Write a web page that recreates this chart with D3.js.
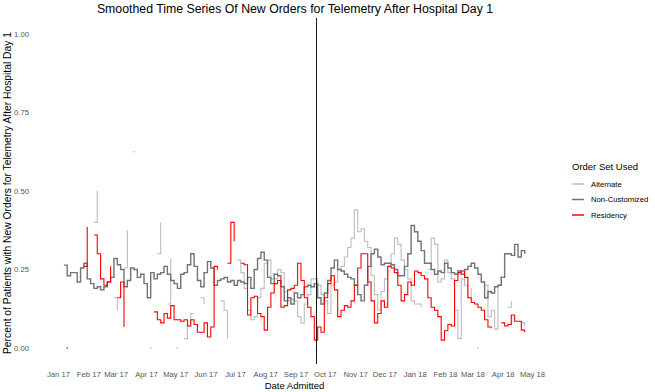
<!DOCTYPE html>
<html>
<head>
<meta charset="utf-8">
<script src="https://cdnjs.cloudflare.com/ajax/libs/d3/7.8.5/d3.min.js"></script>
<style>
  body { margin: 0; background: #ffffff; }
  svg { font-family: "Liberation Sans", Arial, sans-serif; }
</style>
</head>
<body>
<div id="chart"></div>
<script>
/* ********* data ********* */
// one reading every 82 hours starting 7 Jan 2017, null = no admissions that window
var startDate = new Date(2017, 0, 7);
var stepHours = 82;
var cutoverDate = new Date(2017, 8, 22);
var yTicks = [0, 0.25, 0.5, 0.75, 1];
var yTickLabels = ["0.00", "0.25", "0.50", "0.75", "1.00"];
var monthTicks = d3.timeMonth.range(new Date(2017, 0, 1), new Date(2018, 4, 2));
var seriesNames = ["Alternate", "Non-Customized", "Residency"];
var seriesColors = ["#bdbdbd", "#737373", "#ff0000"];
var seriesWidths = [1.1, 1.4, 1.1];

var alternate = [
  null, null, null, null, null, null, null, null, null, 0.4,
  0.5, null, null, null, null, 0.16, 0.12, null, 0.255, 0.375,
  null, 0.625, null, null, null, null, 0, null, 0.3, 0.4,
  null, 0.14, 0.285, null, 0, null, 0.03, 0.07, 0.11, 0.11,
  null, 0.16, 0.14, null, null, null, null, 0.15, 0.12, 0.03,
  null, null, 0.28, 0.24, 0.19, 0.12, 0.09, 0.1, 0.16, 0.19,
  0.27, 0.28, 0.22, 0.22, 0.25, 0.24, 0.18, 0.15, 0.155, 0.15,
  0.1, 0.08, 0.14, 0.17, 0.22, 0.22, 0.2, 0.17, 0.15, 0.11,
  0.2, 0.21, 0.25, 0.26, 0.29, 0.32, 0.35, 0.44, 0.37, 0.38,
  0.34, 0.32, 0.23, 0.17, 0.12, 0.18, 0.22, 0.26, 0.3, 0.35,
  0.33, 0.28, 0.25, 0.22, 0.15, 0.14, 0.14, 0.13, null, 0.25,
  0.35, 0.33, 0.21, 0.22, 0.28, 0.24, 0.22, 0.12, 0.03, 0.22,
  0.2, 0.16, 0.19, null, 0, null, 0.2, 0.1, 0.12, 0.06,
  0.2, 0.23, null, 0.13, 0.15, null, null, 0.08, 0.07
];

var nonCustomized = [
  0.264, 0.23, 0.24, 0.24, 0.21, 0.255, 0.27, 0.22, 0.205, 0.19,
  0.195, 0.185, 0.195, 0.21, 0.225, 0.285, 0.265, 0.25, 0.195, 0.215,
  0.255, 0.25, 0.225, 0.235, 0.205, 0.16, 0.24, 0.22, 0.235, 0.24,
  0.26, 0.235, 0.215, 0.205, 0.19, 0.235, 0.24, 0.265, 0.3, 0.26,
  0.215, 0.195, 0.24, 0.275, 0.255, 0.2, 0.215, 0.22, 0.225, 0.21,
  0.215, 0.2, 0.215, 0.21, 0.205, 0.225, 0.19, 0.25, 0.285, 0.305,
  0.28, 0.225, 0.205, 0.235, 0.23, 0.195, 0.15, 0.16, 0.14, 0.175,
  0.16, 0.17, 0.195, 0.2, 0.195, 0.205, 0.16, 0.14, 0.175, 0.215,
  0.255, 0.28, 0.25, 0.245, 0.235, 0.225, 0.22, 0.2, 0.17, 0.15,
  0.2, 0.26, 0.3, 0.315, 0.29, 0.265, 0.27, 0.27, 0.265, 0.25,
  0.23, 0.23, 0.26, 0.3, 0.39, 0.37, 0.34, 0.31, 0.27, 0.27,
  0.25, 0.235, 0.245, 0.24, 0.27, 0.255, 0.24, 0.235, 0.245, 0.235,
  0.25, 0.26, 0.27, 0.255, 0.235, 0.21, 0.16, 0.18, 0.175, 0.195,
  0.2, 0.225, 0.3, 0.3, 0.295, 0.33, 0.29, 0.31, 0.3
];

var residency = [
  null, 0, null, null, null, null, 0.26, 0.385, null, 0.36,
  0.3, 0.22, 0.2, 0.21, 0.26, null, 0.16, 0.21, 0.067, null,
  null, null, null, null, null, null, null, 0.115, 0.09, 0.08,
  0.11, 0.095, 0.135, 0.09, 0.09, 0.085, 0.09, 0.07, 0.09, 0.075,
  0.05, 0.05, 0.08, 0.035, 0.067, 0.26, 0.25, null, null, 0.27,
  0.4, 0.34, null, 0.27, 0.265, 0.105, 0.16, 0.165, 0.11, 0.1,
  0.057, 0.13, 0.175, 0.205, 0.215, 0.13, 0.135, 0.185, 0.19, 0.2,
  0.27, 0.215, 0.16, 0.13, 0.1, 0.025, 0.067, 0.05, 0.16, 0.205,
  0.23, 0.185, 0.1, 0.12, 0.135, 0.13, 0.15, 0.2, 0.255, 0.3,
  0.3, 0.21, 0.15, 0.08, 0.11, 0.15, 0.13, 0.26, 0.255, 0.24,
  0.2, 0.15, 0.17, 0.21, 0.2, 0.245, 0.24, 0.23, 0.22, 0.16,
  0.13, 0.12, 0.1, 0.025, 0.055, 0.075, 0.07, 0.215, 0.24, 0.245,
  0.225, 0.16, 0.145, 0.14, 0.13, 0.12, 0.09, 0.067, 0.063, null,
  null, 0.08, 0.07, 0.075, 0.105, 0.085, 0.085, 0.057, 0.05
];

/* ********* layout ********* */
var width = 655, height = 392;
var panel = { left: 41, right: 548, top: 18, bottom: 364 };

var dates = nonCustomized.map(function(d, i) {
  return d3.timeHour.offset(startDate, i * stepHours);
});

var x = d3.scaleTime()
  .domain([new Date(2017, 0, 1), new Date(2018, 4, 1)])
  .range([58, 532]);

var y = d3.scaleLinear()
  .domain([0, 1])
  .range([348, 34]);

var svg = d3.select("#chart").append("svg")
  .attr("width", width)
  .attr("height", height);

/* title */
svg.append("text")
  .attr("x", 295)
  .attr("y", 13)
  .attr("text-anchor", "middle")
  .style("font-size", "12.3px")
  .style("fill", "#000")
  .text("Smoothed Time Series Of New Orders for Telemetry After Hospital Day 1");

/* axes, no ticks or domain lines */
var xAxis = svg.append("g")
  .attr("transform", "translate(0," + panel.bottom + ")")
  .call(d3.axisBottom(x)
    .tickValues(monthTicks)
    .tickFormat(d3.timeFormat("%b %y"))
    .tickSize(0)
    .tickPadding(8));

var yAxis = svg.append("g")
  .attr("transform", "translate(" + (panel.left - 4) + ",0)")
  .call(d3.axisLeft(y)
    .tickValues(yTicks)
    .tickFormat(function(d, i) { return yTickLabels[i]; })
    .tickSize(0)
    .tickPadding(8));

[xAxis, yAxis].forEach(function(g) {
  g.select(".domain").remove();
  g.selectAll("text")
    .attr("fill", "#555555")
    .style("font-family", "\"Liberation Sans\", Arial, sans-serif")
    .style("font-size", "7.7px");
});

svg.append("text")
  .attr("x", (panel.left + panel.right) / 2)
  .attr("y", 389)
  .attr("text-anchor", "middle")
  .style("font-size", "9.5px")
  .text("Date Admitted");

svg.append("text")
  .attr("transform", "translate(11," + ((panel.top + panel.bottom) / 2 + 2) + ") rotate(-90)")
  .attr("text-anchor", "middle")
  .style("font-size", "10.3px")
  .text("Percent of Patients with New Orders for Telemetry After Hospital Day 1");

/* series */
var series = [alternate, nonCustomized, residency];

var line = d3.line()
  .defined(function(d) { return d != null; })
  .x(function(d, i) { return x(dates[i]); })
  .y(function(d) { return y(d); })
  .curve(d3.curveStepAfter);

var lines = svg.append("g").attr("class", "lines");

series.forEach(function(values, s) {
  lines.append("path")
    .datum(values)
    .attr("d", line)
    .style("fill", "none")
    .style("stroke", seriesColors[s])
    .style("stroke-width", seriesWidths[s]);

  // single readings with no neighbours show up as dots
  var lonely = values.map(function(v, i) {
    var prev = i > 0 ? values[i - 1] : null;
    var next = i < values.length - 1 ? values[i + 1] : null;
    return (v != null && prev == null && next == null) ? i : -1;
  }).filter(function(i) { return i >= 0; });

  lines.selectAll(null)
    .data(lonely)
    .enter().append("rect")
      .attr("x", function(i) { return x(dates[i]) - 0.7; })
      .attr("y", function(i) { return y(values[i]) - 0.7; })
      .attr("width", 1.4)
      .attr("height", 1.4)
      .style("fill", seriesColors[s]);
});

/* cutover line */
var cx = Math.round(x(cutoverDate)) + 0.5;
svg.append("line")
  .attr("x1", cx)
  .attr("x2", cx)
  .attr("y1", panel.top)
  .attr("y2", panel.bottom)
  .style("stroke", "#1a1a1a")
  .style("stroke-width", 1);

/* legend */
var legend = svg.append("g")
  .attr("transform", "translate(572,0)");

legend.append("text")
  .attr("x", 0)
  .attr("y", 169.5)
  .style("font-size", "9.5px")
  .text("Order Set Used");

var item = legend.selectAll("g.item")
  .data(seriesNames)
  .enter().append("g")
    .attr("class", "item")
    .attr("transform", function(d, i) { return "translate(0," + (184 + i * 15.5) + ")"; });

item.append("line")
  .attr("x1", 0)
  .attr("x2", 12)
  .style("stroke", function(d, i) { return seriesColors[i]; })
  .style("stroke-width", 1.5);

item.append("text")
  .attr("x", 19)
  .attr("y", 2.7)
  .style("font-size", "7.7px")
  .text(function(d) { return d; });
</script>
</body>
</html>
